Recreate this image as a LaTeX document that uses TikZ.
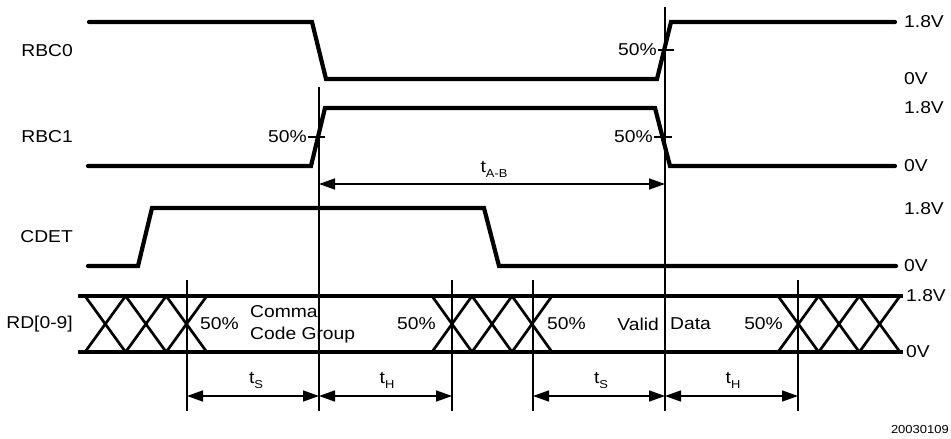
\documentclass[tikz,border=0pt]{standalone}
\usepackage{fontspec}
\setmainfont{Liberation Sans}[FakeStretch=1.12]
\usetikzlibrary{arrows.meta}
\newcommand\tlab[1]{t\raisebox{-0.55ex}{\fontsize{11.5}{12}\selectfont #1}}
\begin{document}
\begin{tikzpicture}[x=1pt,y=-1pt,
  font=\fontsize{17.2}{19}\selectfont,
  sig/.style={line width=4.2pt, line cap=round, line join=miter},
  bus/.style={line width=4.2pt},
  xline/.style={line width=2.7pt},
  thin/.style={line width=1.6pt},
  dim/.style={line width=1.6pt, {Triangle[length=16pt,width=11pt]}-{Triangle[length=16pt,width=11pt]}},
  sname/.style={anchor=east, inner sep=0pt},
  volt/.style={anchor=west, inner sep=0pt},
  pct/.style={anchor=east, inner sep=0pt}]
\useasboundingbox (0,0) rectangle (951,439);

% signal names
\node[sname] (nrbc0) at (73,51) {RBC0};
\node[sname] (nrbc1) at (73,137) {RBC1};
\node[sname] (ncdet) at (73,237) {CDET};
\node[sname] (nrd) at (73,324) {RD[0-9]};

% voltage labels
\node[volt] (v1) at (904,22) {1.8V};
\node[volt] (v2) at (904,79) {0V};
\node[volt] (v3) at (904,108) {1.8V};
\node[volt] (v4) at (904,166) {0V};
\node[volt] (v5) at (904,209) {1.8V};
\node[volt] (v6) at (904,266) {0V};
\node[volt] (v7) at (906,296) {1.8V};
\node[volt] (v8) at (906,352) {0V};

% waveforms
\draw[sig] (89,22) -- (312,22) -- (326,79) -- (657,79) -- (671,22) -- (895,22);
\draw[sig] (88,166) -- (311,166) -- (325,108) -- (655,108) -- (670,166) -- (895,166);
\draw[sig] (88,266) -- (138,266) -- (152,208) -- (484,208) -- (499,266) -- (896,266);

% 50% ticks
\draw[thin] (658,50) -- (674,50);
\node[pct] (p1) at (657,50) {50\%};
\draw[thin] (308,137) -- (325,137);
\node[pct] (p2) at (307,137) {50\%};
\draw[thin] (654,137) -- (672,137);
\node[pct] (p3) at (653,137) {50\%};

% bus
\draw[bus] (78,296) -- (903,296);
\draw[bus] (78,352) -- (903,352);
\foreach \a/\b in {85/125.6,125.6/166.2,166.2/206.8,432/472,472/512,512/552,778/818.7,818.7/859.3,859.3/900}{
  \draw[xline] (\a,296) -- (\b,352);
  \draw[xline] (\a,352) -- (\b,296);
}

% bus texts
\node[anchor=west, inner sep=0pt] (b1) at (200,324) {50\%};
\node[anchor=west, inner sep=0pt, align=left, font=\fontsize{17.2}{22.5}\selectfont] (b2) at (250,324.5) {Comma\\Code Group};
\node[anchor=east, inner sep=0pt] (b3) at (436,324) {50\%};
\node[anchor=west, inner sep=0pt] (b4) at (547,324) {50\%};
\node[anchor=east, inner sep=0pt] (b5) at (659,324) {Valid};
\node[anchor=west, inner sep=0pt] (b6) at (670,324) {Data};
\node[anchor=east, inner sep=0pt] (b7) at (783,324) {50\%};

% vertical reference lines
\coordinate (l1t) at (187,280); \coordinate (l1b) at (187,411);
\coordinate (l2t) at (319,87);  \coordinate (l2b) at (319,411);
\coordinate (l3t) at (452,280); \coordinate (l3b) at (452,411);
\coordinate (l4t) at (533,280); \coordinate (l4b) at (533,411);
\coordinate (l5t) at (665,7);   \coordinate (l5b) at (665,411);
\coordinate (l6t) at (798,280); \coordinate (l6b) at (798,411);
\foreach \i in {1,...,6}{\draw[thin] (l\i t) -- (l\i b);}

% timing arrows
\coordinate (ab1) at (319,184); \coordinate (ab2) at (665,184);
\draw[dim] (ab1) -- (ab2);
\node (tab) at (494,169) {\tlab{A-B}};

\coordinate (d1) at (187,396); \coordinate (d2) at (319,396);
\coordinate (d3) at (452,396); \coordinate (d4) at (533,396);
\coordinate (d5) at (665,396); \coordinate (d6) at (798,396);
\draw[dim] (d1) -- (d2);
\draw[dim] (d2) -- (d3);
\draw[dim] (d4) -- (d5);
\draw[dim] (d5) -- (d6);
\node (ts1) at (256,380) {\tlab{S}};
\node (th1) at (387,380) {\tlab{H}};
\node (ts2) at (601,380) {\tlab{S}};
\node (th2) at (733,380) {\tlab{H}};

\node[anchor=east, inner sep=0pt, font=\fontsize{11.6}{13}\selectfont] (fig) at (949,430) {20030109};
\end{tikzpicture}
\end{document}
